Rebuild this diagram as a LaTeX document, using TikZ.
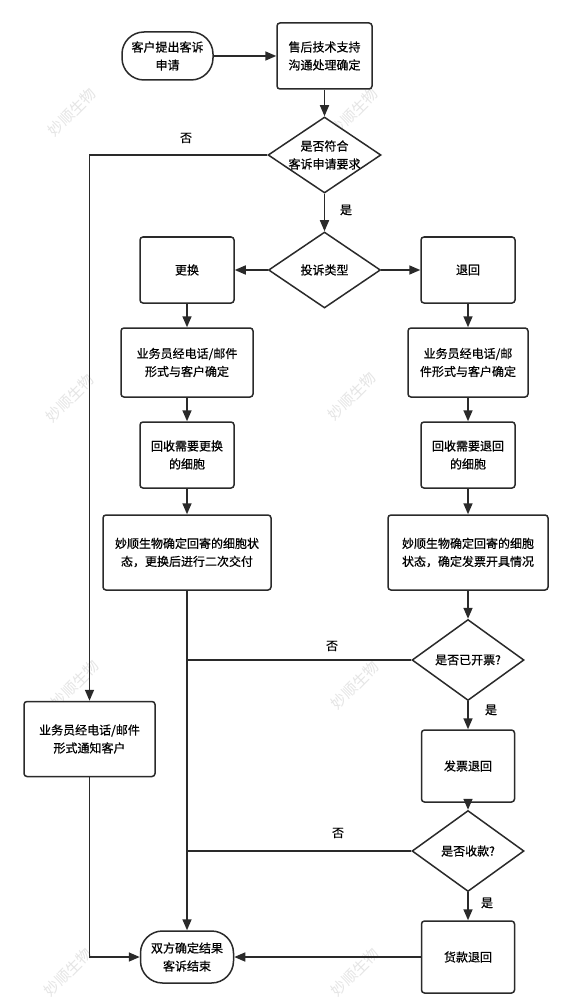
\documentclass[tikz,border=0pt]{standalone}
\usepackage{fontspec}
\newfontfamily\cjk[FakeBold=0.6]{Noto Sans CJK SC}
\newfontfamily\cjkwm{Noto Sans CJK SC}
\usetikzlibrary{shapes.geometric,arrows.meta}
\definecolor{ln}{HTML}{2A2A2A}
\begin{document}
\begin{tikzpicture}[x=1pt,y=-1pt,
  every node/.style={font=\cjk\fontsize{12}{18}\selectfont, text=black, align=center},
  box/.style={draw=ln, line width=1.5pt, fill=white, rounded corners=3pt, inner sep=0pt},
  term/.style={box, rounded corners=22pt},
  dia/.style={diamond, draw=ln, line width=1.5pt, fill=white, inner sep=0pt},
  flow/.style={draw=ln, line width=1.6pt},
  arr/.style={flow, -{Triangle[length=11pt,width=9pt]}},
  wm/.style={text=black!10, rotate=45, inner sep=0pt, font=\cjkwm\fontsize{15}{15}\selectfont}
]
\useasboundingbox[fill=white] (0,0) rectangle (570,1000);

% watermarks
\node[wm] (w1) at (72,112) {妙顺生物};
\node[wm] (w2) at (354,112) {妙顺生物};
\node[wm] (w3) at (70,398) {妙顺生物};
\node[wm] (w4) at (352,396) {妙顺生物};
\node[wm] (w5) at (75,684) {妙顺生物};
\node[wm] (w6) at (355,685) {妙顺生物};
\node[wm] (w7) at (68,972) {妙顺生物};
\node[wm] (w8) at (355,972) {妙顺生物};

% nodes
\node[term, minimum width=91pt, minimum height=48pt] (start) at (167.5,56) {客户提出客诉\\申请};
\node[box, minimum width=95pt, minimum height=66pt] (s1) at (324.5,56) {售后技术支持\\沟通处理确定};
\node[dia, minimum width=113pt, minimum height=76pt] (d1) at (324.5,155) {};
\node (d1t) at (d1.center) {是否符合\\客诉申请要求};
\node[dia, minimum width=112pt, minimum height=76pt] (d2) at (324.5,270) {};
\node (d2t) at (d2.center) {投诉类型};
\node[box, minimum width=94pt, minimum height=66pt] (ex) at (187,270) {更换};
\node[box, minimum width=94pt, minimum height=66pt] (rt) at (468,270) {退回};
\node[box, minimum width=132pt, minimum height=69pt] (ex2) at (187,362.5) {业务员经电话/邮件\\形式与客户确定};
\node[box, minimum width=120pt, minimum height=69pt] (rt2) at (468,362.5) {业务员经电话/邮\\件形式与客户确定};
\node[box, minimum width=94pt, minimum height=66pt] (ex3) at (187,455) {回收需要更换\\的细胞};
\node[box, minimum width=94pt, minimum height=66pt] (rt3) at (468,455) {回收需要退回\\的细胞};
\node[box, minimum width=168pt, minimum height=75pt] (ex4) at (187,552.5) {妙顺生物确定回寄的细胞状\\态，更换后进行二次交付};
\node[box, minimum width=160pt, minimum height=75pt] (rt4) at (468,552.5) {妙顺生物确定回寄的细胞\\状态，确定发票开具情况};
\node[dia, minimum width=112pt, minimum height=81pt] (d3) at (468,660) {};
\node (d3t) at (d3.center) {是否已开票?};
\node[box, minimum width=93pt, minimum height=72pt] (inv) at (468,766) {发票退回};
\node[dia, minimum width=112pt, minimum height=81pt] (d4) at (468,851) {};
\node (d4t) at (d4.center) {是否收款?};
\node[box, minimum width=93pt, minimum height=72pt] (ref) at (468,957) {货款退回};
\node[term, minimum width=93pt, minimum height=52pt] (end) at (187,957) {双方确定结果\\客诉结束};
\node[box, minimum width=131pt, minimum height=75pt] (ntf) at (89.5,739) {业务员经电话/邮件\\形式通知客户};

% connectors
\draw[arr] (start) -- (s1);
\draw[arr] (s1) -- (d1);
\draw[arr] (d1.west) -| (ntf.north);
\draw[arr] (d1) -- (d2);
\draw[arr] (d2) -- (ex);
\draw[arr] (d2) -- (rt);
\draw[arr] (ex) -- (ex2);
\draw[arr] (ex2) -- (ex3);
\draw[arr] (ex3) -- (ex4);
\draw[arr] (rt) -- (rt2);
\draw[arr] (rt2) -- (rt3);
\draw[arr] (rt3) -- (rt4);
\draw[arr] (rt4) -- (d3);
\draw[arr] (ex4) -- (end);
\coordinate (j1) at (ex4.south |- d3.west);
\coordinate (j2) at (ex4.south |- d4.west);
\draw[flow] (d3.west) -- (j1);
\draw[flow] (d4.west) -- (j2);
\draw[arr] (d3) -- (inv);
\draw[arr] (inv) -- (d4);
\draw[arr] (d4) -- (ref);
\draw[arr] (ref) -- (end);
\draw[arr] (ntf.south) |- (end.west);

% labels
\node (l1) at (186,138) {否};
\node (l2) at (346,210) {是};
\node (l3) at (332,646) {否};
\node (l4) at (491,710) {是};
\node (l5) at (338,833) {否};
\node (l6) at (487,903) {是};
\end{tikzpicture}
\end{document}
